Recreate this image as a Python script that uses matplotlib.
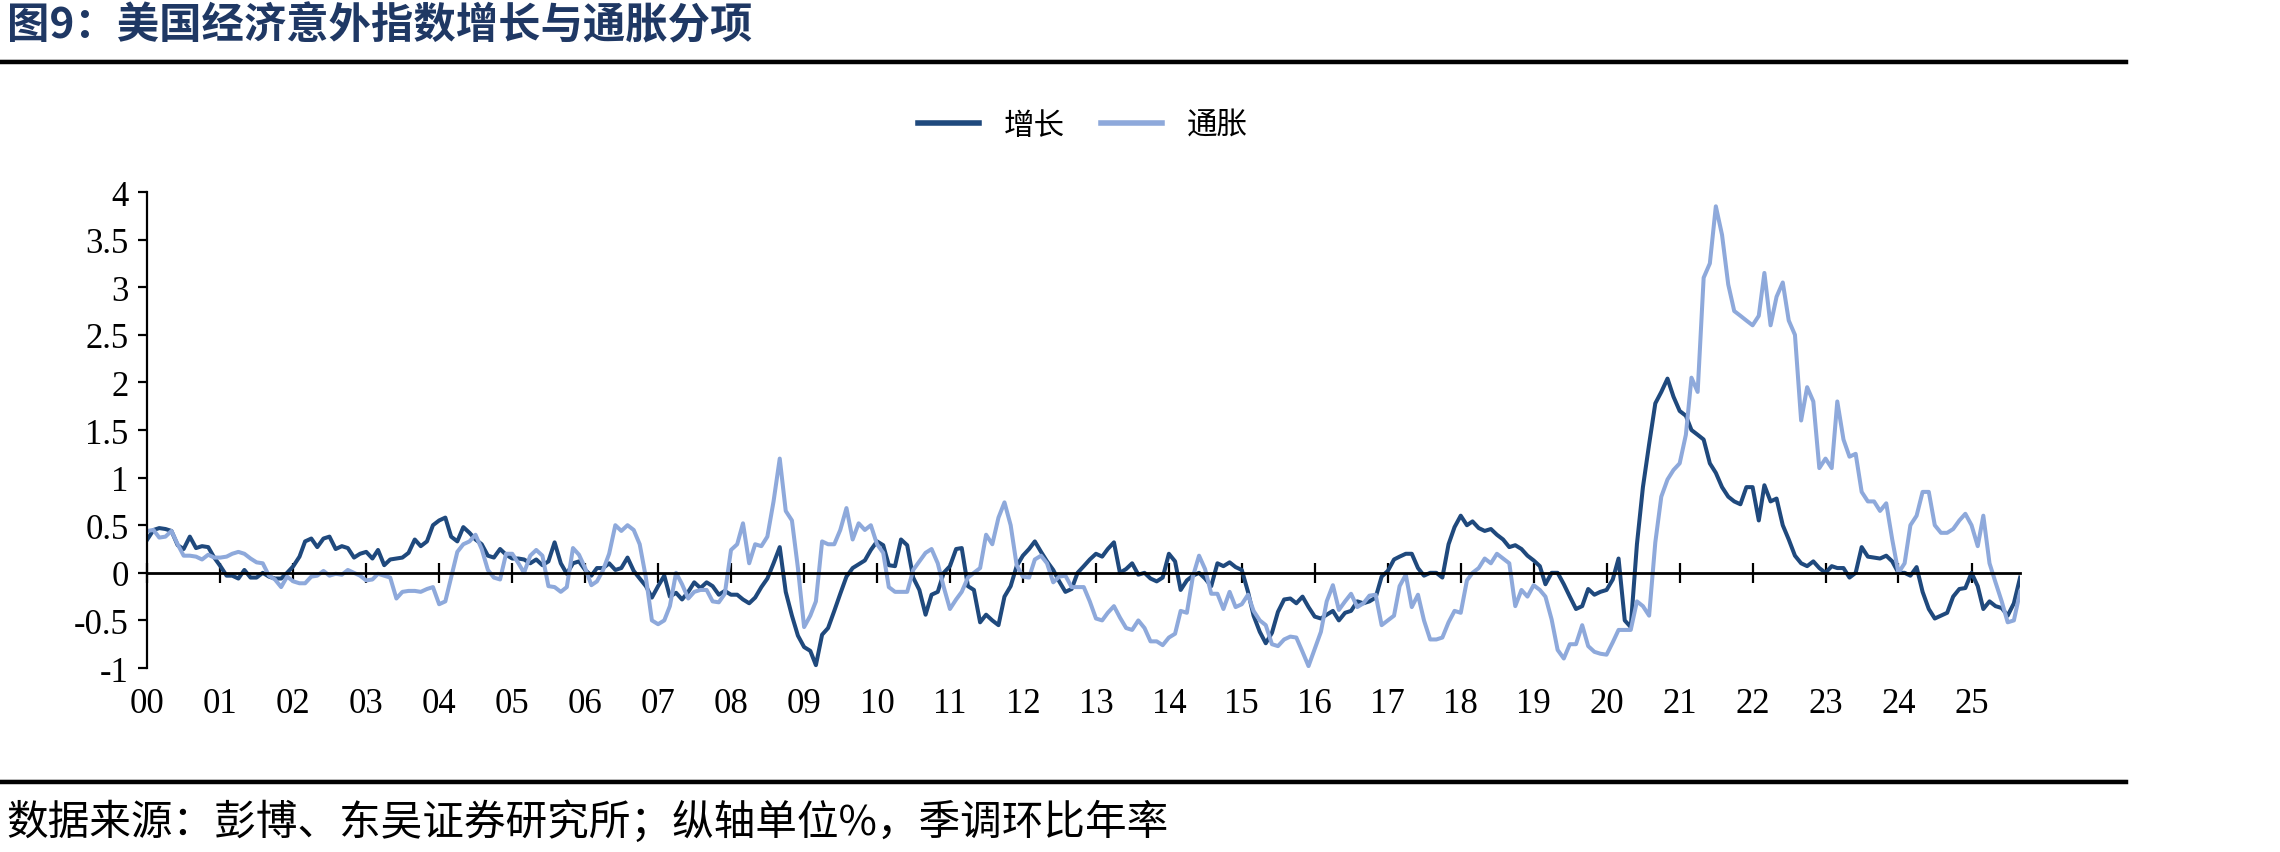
import numpy as np
import pandas as pd
import matplotlib
matplotlib.use('Agg')
import matplotlib.pyplot as plt
import matplotlib.dates as mdates
from matplotlib.lines import Line2D
from matplotlib.ticker import FuncFormatter

plt.rcParams['axes.unicode_minus'] = False

# monthly readings, Jan 2000 .. Sep 2025 (one row per year)
growth = [
    0.35, 0.45, 0.47, 0.46, 0.44, 0.29, 0.25, 0.38, 0.26, 0.28, 0.27, 0.16,
    0.07, -0.03, -0.03, -0.06, 0.03, -0.05, -0.05, 0.00, -0.04, -0.06, -0.06, 0.00,
    0.07, 0.17, 0.33, 0.36, 0.27, 0.36, 0.38, 0.25, 0.28, 0.26, 0.16, 0.20,
    0.22, 0.15, 0.24, 0.08, 0.14, 0.15, 0.16, 0.21, 0.35, 0.28, 0.33, 0.50,
    0.55, 0.58, 0.38, 0.33, 0.48, 0.42, 0.35, 0.30, 0.18, 0.16, 0.25, 0.19,
    0.15, 0.15, 0.14, 0.10, 0.14, 0.08, 0.12, 0.32, 0.10, -0.01, 0.10, 0.12,
    0.03, -0.03, 0.05, 0.05, 0.10, 0.03, 0.05, 0.16, 0.02, -0.06, -0.14, -0.26,
    -0.14, -0.03, -0.25, -0.21, -0.28, -0.20, -0.10, -0.16, -0.10, -0.14, -0.23, -0.19,
    -0.23, -0.23, -0.28, -0.32, -0.26, -0.15, -0.06, 0.10, 0.27, -0.20, -0.45, -0.66,
    -0.78, -0.82, -0.97, -0.65, -0.58, -0.40, -0.22, -0.04, 0.05, 0.09, 0.13, 0.24,
    0.33, 0.29, 0.08, 0.07, 0.35, 0.29, -0.05, -0.18, -0.44, -0.23, -0.20, 0.00,
    0.07, 0.25, 0.26, -0.14, -0.18, -0.52, -0.44, -0.50, -0.55, -0.25, -0.14, 0.07,
    0.18, 0.25, 0.33, 0.22, 0.12, 0.03, -0.09, -0.20, -0.17, 0.00, 0.07, 0.14,
    0.20, 0.17, 0.25, 0.32, 0.00, 0.04, 0.10, -0.02, 0.00, -0.06, -0.09, -0.05,
    0.20, 0.12, -0.18, -0.08, -0.03, 0.00, -0.06, -0.14, 0.10, 0.07, 0.11, 0.06,
    0.03, -0.20, -0.45, -0.62, -0.74, -0.63, -0.41, -0.28, -0.27, -0.32, -0.25, -0.36,
    -0.46, -0.48, -0.44, -0.40, -0.50, -0.42, -0.40, -0.30, -0.32, -0.30, -0.26, -0.04,
    0.02, 0.14, 0.17, 0.20, 0.20, 0.05, -0.03, 0.00, 0.00, -0.05, 0.30, 0.48,
    0.60, 0.50, 0.54, 0.47, 0.44, 0.46, 0.40, 0.35, 0.27, 0.29, 0.25, 0.18,
    0.13, 0.07, -0.12, 0.00, 0.00, -0.12, -0.25, -0.38, -0.35, -0.17, -0.23, -0.20,
    -0.18, -0.07, 0.15, -0.50, -0.57, 0.30, 0.90, 1.35, 1.78, 1.90, 2.04, 1.85,
    1.70, 1.65, 1.50, 1.45, 1.40, 1.15, 1.05, 0.90, 0.80, 0.75, 0.72, 0.90,
    0.90, 0.55, 0.92, 0.75, 0.78, 0.50, 0.35, 0.18, 0.10, 0.07, 0.12, 0.05,
    0.00, 0.07, 0.05, 0.05, -0.05, 0.00, 0.27, 0.17, 0.16, 0.15, 0.18, 0.12,
    0.00, 0.00, -0.03, 0.06, -0.20, -0.38, -0.48, -0.45, -0.42, -0.25, -0.17, -0.16,
    0.00, -0.14, -0.38, -0.30, -0.35, -0.37, -0.45, -0.32, -0.05,
]

inflation = [
    0.44, 0.45, 0.37, 0.38, 0.44, 0.30, 0.18, 0.18, 0.17, 0.14, 0.19, 0.16,
    0.16, 0.17, 0.20, 0.22, 0.20, 0.15, 0.11, 0.10, -0.03, -0.07, -0.15, -0.04,
    -0.09, -0.11, -0.11, -0.04, -0.03, 0.02, -0.03, -0.01, -0.02, 0.03, 0.00, -0.03,
    -0.08, -0.07, -0.01, -0.03, -0.05, -0.27, -0.20, -0.19, -0.19, -0.20, -0.17, -0.15,
    -0.33, -0.30, -0.05, 0.22, 0.30, 0.33, 0.40, 0.25, 0.03, -0.05, -0.07, 0.20,
    0.20, 0.10, 0.00, 0.18, 0.24, 0.18, -0.14, -0.15, -0.20, -0.15, 0.26, 0.19,
    0.05, -0.13, -0.09, 0.03, 0.20, 0.50, 0.44, 0.50, 0.45, 0.30, -0.05, -0.50,
    -0.54, -0.50, -0.35, 0.00, -0.12, -0.27, -0.20, -0.18, -0.18, -0.30, -0.31, -0.22,
    0.24, 0.30, 0.52, 0.10, 0.30, 0.28, 0.38, 0.75, 1.20, 0.65, 0.55, 0.05,
    -0.57, -0.45, -0.30, 0.33, 0.30, 0.30, 0.45, 0.68, 0.35, 0.52, 0.45, 0.50,
    0.30, 0.21, -0.15, -0.20, -0.20, -0.20, 0.03, 0.12, 0.21, 0.25, 0.10, -0.15,
    -0.38, -0.28, -0.20, -0.05, 0.00, 0.05, 0.40, 0.30, 0.58, 0.74, 0.50, 0.08,
    -0.04, -0.05, 0.14, 0.18, 0.10, -0.10, -0.04, -0.03, -0.15, -0.15, -0.15, -0.30,
    -0.48, -0.50, -0.42, -0.35, -0.47, -0.58, -0.60, -0.50, -0.58, -0.72, -0.72, -0.76,
    -0.68, -0.64, -0.40, -0.42, -0.04, 0.18, 0.04, -0.22, -0.22, -0.38, -0.20, -0.36,
    -0.33, -0.23, -0.40, -0.50, -0.55, -0.75, -0.77, -0.70, -0.67, -0.68, -0.83, -0.98,
    -0.80, -0.62, -0.30, -0.13, -0.39, -0.30, -0.22, -0.36, -0.32, -0.24, -0.23, -0.55,
    -0.50, -0.45, -0.14, -0.02, -0.36, -0.23, -0.50, -0.70, -0.70, -0.68, -0.52, -0.40,
    -0.42, -0.08, 0.00, 0.05, 0.15, 0.10, 0.20, 0.15, 0.10, -0.35, -0.18, -0.25,
    -0.13, -0.18, -0.25, -0.49, -0.81, -0.90, -0.75, -0.75, -0.55, -0.77, -0.83, -0.85,
    -0.86, -0.73, -0.60, -0.60, -0.60, -0.30, -0.35, -0.45, 0.32, 0.80, 0.98, 1.08,
    1.15, 1.45, 2.05, 1.90, 3.10, 3.25, 3.85, 3.55, 3.03, 2.75, 2.70, 2.65,
    2.60, 2.70, 3.15, 2.60, 2.90, 3.05, 2.65, 2.50, 1.60, 1.95, 1.80, 1.10,
    1.20, 1.10, 1.80, 1.40, 1.22, 1.25, 0.85, 0.75, 0.75, 0.65, 0.73, 0.35,
    0.00, 0.10, 0.50, 0.60, 0.85, 0.85, 0.50, 0.42, 0.42, 0.46, 0.55, 0.62,
    0.50, 0.28, 0.60, 0.10, -0.10, -0.30, -0.52, -0.50, -0.20,
]

series_names = ['增长', '通胀']
series_colors = ['#1F497D', '#8EA9DB']
y_ticks = [-1, -0.5, 0, 0.5, 1, 1.5, 2, 2.5, 3, 3.5, 4]

title_text = '图9：美国经济意外指数增长与通胀分项'
source_text = '数据来源：彭博、东吴证券研究所；纵轴单位%，季调环比年率'

dates = pd.date_range('2000-01-01', periods=len(growth), freq='MS')

cjk = ['Noto Sans CJK SC', 'DejaVu Sans']
num_font = 'Liberation Serif'

fig = plt.figure(figsize=(22.8, 8.53), dpi=100)
ax = fig.add_axes([0.0646, 0.2157, 0.8214, 0.558])

ax.plot(dates, growth, color=series_colors[0], lw=2.9, label=series_names[0])
ax.plot(dates, inflation, color=series_colors[1], lw=2.9, label=series_names[1])

ax.set_xlim(dates[0], dates[-1])
ax.set_ylim(-1, 4)
ax.set_yticks(y_ticks)
ax.yaxis.set_major_formatter(FuncFormatter(lambda v, p: '%g' % v))

for s in ['top', 'right']:
    ax.spines[s].set_visible(False)
ax.spines['left'].set_linewidth(1.6)
ax.spines['bottom'].set_position(('data', 0))
ax.spines['bottom'].set_linewidth(2.0)

ax.xaxis.set_major_locator(mdates.YearLocator())
ax.tick_params(axis='x', direction='inout', length=14, width=1.6,
               labelbottom=False)
ax.tick_params(axis='y', direction='out', length=6.5, width=1.6, pad=7,
               labelsize=25)
for lab in ax.get_yticklabels():
    lab.set_fontfamily(num_font)

# year labels along the bottom edge
sec = ax.secondary_xaxis('bottom')
sec.xaxis.set_major_locator(mdates.YearLocator())
sec.xaxis.set_major_formatter(mdates.DateFormatter('%y'))
sec.tick_params(axis='x', length=0, pad=14, labelsize=25)
sec.spines['bottom'].set_visible(False)
for lab in sec.get_xticklabels():
    lab.set_fontfamily(num_font)

leg = fig.legend(loc='center', bbox_to_anchor=(0.475, 0.852), ncol=2,
                 frameon=False, handlelength=2.0, handletextpad=0.8,
                 columnspacing=1.2, prop={'family': cjk, 'size': 22})
for h in leg.get_lines():
    h.set_linewidth(4)

fig.text(0.003, 1 - 26 / 853, title_text, ha='left', va='center',
         fontsize=30.5, fontweight='bold', color='#1F3864', family=cjk)
fig.text(0.003, 1 - 822 / 853, source_text, ha='left', va='center',
         fontsize=30, color='black', family=cjk)

# header / footer rules
for y in [1 - 63 / 853, 1 - 783 / 853]:
    fig.add_artist(Line2D([0, 0.9325], [y + 2.5 / 853, y + 2.5 / 853],
                          transform=fig.transFigure, color='#A0A0A0', lw=1))
    fig.add_artist(Line2D([0, 0.9325], [y, y], transform=fig.transFigure,
                          color='black', lw=3.2))

fig.savefig('out.png', dpi=100)
